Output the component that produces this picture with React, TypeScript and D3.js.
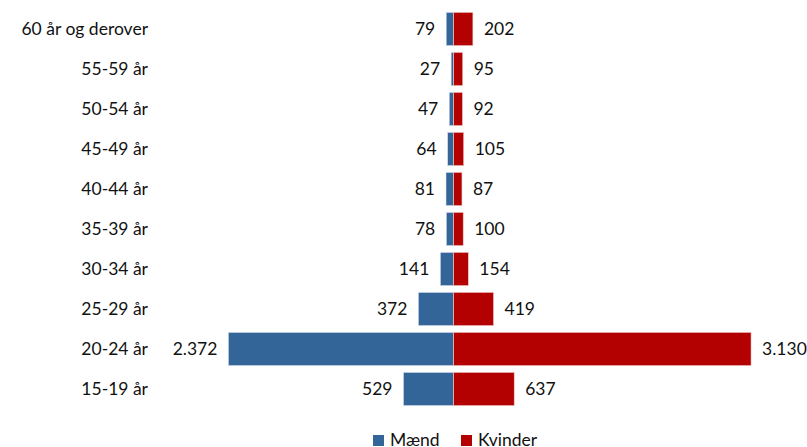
import React from "react";
import * as d3 from "d3";

const categories = ["60 år og derover", "55-59 år", "50-54 år", "45-49 år", "40-44 år", "35-39 år", "30-34 år", "25-29 år", "20-24 år", "15-19 år"];
const maend = [79, 27, 47, 64, 81, 78, 141, 372, 2372, 529];
const kvinder = [202, 95, 92, 105, 87, 100, 154, 419, 3130, 637];
const seriesNames = ["Mænd", "Kvinder"];
const colors = ["#336598", "#B30000"];

const fmt = (v: number) => d3.format(",")(v).replace(/,/g, ".");

export default function App() {
  const W = 807, H = 447;
  const cx = 453.7;
  const k = 0.095;
  const xLeft = d3.scaleLinear().domain([0, 2372]).range([cx, cx - 2372 * k]);
  const xRight = d3.scaleLinear().domain([0, 3130]).range([cx, cx + 3130 * k]);
  const y = d3.scaleBand().domain(categories).range([9, 409]).paddingInner(0.17).paddingOuter(0.085);
  const font = "Lato, 'Open Sans', sans-serif";
  const fs = 17.5;
  const gap = 11;
  return (
    <svg width={W} height={H} style={{ position: "absolute", left: 0, top: 0, background: "#fff" }} fontFamily={font}>
      {categories.map((c, i) => {
        const yy = y(c)!;
        const bh = y.bandwidth();
        const mid = yy + bh / 2;
        return (
          <g key={c}>
            <text x={148} y={mid} dy="0.36em" textAnchor="end" fontSize={fs} fill="#111">{c}</text>
            <rect x={xLeft(maend[i])} y={yy} width={cx - xLeft(maend[i])} height={bh} fill={colors[0]} stroke="#d9e2ee" strokeWidth={0.6} />
            <rect x={cx} y={yy} width={xRight(kvinder[i]) - cx} height={bh} fill={colors[1]} stroke="#f0c8c8" strokeWidth={0.6} />
            <text x={xLeft(maend[i]) - gap} y={mid} dy="0.36em" textAnchor="end" fontSize={fs} fill="#111">{fmt(maend[i])}</text>
            <text x={xRight(kvinder[i]) + gap} y={mid} dy="0.36em" textAnchor="start" fontSize={fs} fill="#111">{fmt(kvinder[i])}</text>
          </g>
        );
      })}
      <g>
        <rect x={373} y={435} width={11} height={11} fill={colors[0]} />
        <text x={390} y={446} fontSize={fs} fill="#111">{seriesNames[0]}</text>
        <rect x={461} y={435} width={11} height={11} fill={colors[1]} />
        <text x={478} y={446} fontSize={fs} fill="#111">{seriesNames[1]}</text>
      </g>
    </svg>
  );
}
